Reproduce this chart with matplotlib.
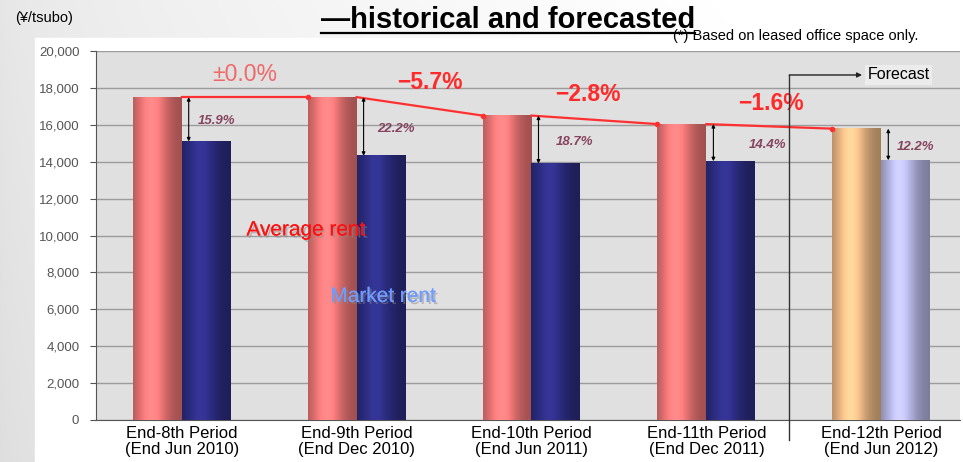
import numpy as np
import matplotlib
matplotlib.use("Agg")
import matplotlib.pyplot as plt
from matplotlib.lines import Line2D
import matplotlib.patheffects as pe

# ---------------- data ----------------
periods = ["End-8th Period\n(End Jun 2010)", "End-9th Period\n(End Dec 2010)",
           "End-10th Period\n(End Jun 2011)", "End-11th Period\n(End Dec 2011)",
           "End-12th Period\n(End Jun 2012)"]
average_rent = [17500, 17500, 16500, 16040, 15790]
market_rent = [15100, 14320, 13900, 14030, 14080]
change_labels = ["±0.0%", "−5.7%", "−2.8%", "−1.6%"]
gap_labels = ["15.9%", "22.2%", "18.7%", "14.4%", "12.2%"]
yticks = [0, 2000, 4000, 6000, 8000, 10000, 12000, 14000, 16000, 18000, 20000]

# ---------------- style / layout ----------------
W, H = 963, 462
fig = plt.figure(figsize=(W / 100, H / 100), dpi=100)

# background gradient
bg = fig.add_axes([0, 0, 1, 1], zorder=-10)
xx = np.linspace(0, 1, W)[None, :]
yy = np.linspace(0, 1, H)[:, None]
v = 0.87 + 0.12 * xx ** 0.6 + 0.03 * (1 - yy)
v = np.clip(v, 0, 1)
img = np.dstack([v * np.ones((H, W))] * 3)
bg.imshow(img, extent=[0, W, H, 0], aspect="auto")
bg.add_patch(plt.Rectangle((35, 38), W - 35, H - 38, color="white"))
bg.set_xlim(0, W)
bg.set_ylim(H, 0)
bg.axis("off")

ax = fig.add_axes([96 / W, (H - 420) / H, (960 - 96) / W, (420 - 51) / H])
ax.set_facecolor("#e0e0e0")
ax.set_axisbelow(True)

x = np.arange(len(periods))
w = 0.28
avg_base = ["#ff7f7f"] * 4 + ["#ffc890"]
mkt_base = ["#30308c"] * 4 + ["#c4c4f6"]

bars_avg = ax.bar(x - w / 2, average_rent, width=w, color=avg_base, zorder=3)
bars_mkt = ax.bar(x + w / 2, market_rent, width=w, color=mkt_base, zorder=3)


def shade_profile(n=64):
    t = np.linspace(0, 1, n)
    return 0.62 + 0.45 * np.exp(-((t - 0.38) / 0.33) ** 2)


prof = shade_profile()
for bars, bases in ((bars_avg, avg_base), (bars_mkt, mkt_base)):
    for b, c in zip(bars, bases):
        rgb = np.array(matplotlib.colors.to_rgb(c))
        g = np.clip(rgb[None, :] * prof[:, None] + 0.08 * np.clip(prof[:, None] - 0.95, 0, 1), 0, 1)
        g = g[None, :, :]
        ax.imshow(g, extent=[b.get_x(), b.get_x() + b.get_width(), 0, b.get_height()],
                  aspect="auto", zorder=4, interpolation="bicubic")

# trend line between average rent bars
for i in range(len(x) - 1):
    x0 = x[i]
    x1 = x[i + 1] - w
    ax.plot([x0, x1], [average_rent[i], average_rent[i + 1]], color="#ff3030", lw=1.6, zorder=5)
    ax.plot([x1], [average_rent[i + 1]], "o", color="#ff3030", ms=3, zorder=5)

# change labels
chg_pos = [(0.36, 18700), (1.42, 18270), (2.32, 17620), (3.37, 17180)]
for lab, (px, py) in zip(change_labels, chg_pos):
    light = lab.startswith("±")
    ax.text(px, py, lab, ha="center", va="center", fontsize=16.5,
            fontweight="normal" if light else "bold",
            color="#f06868" if light else "#ff2a2a",
            family=["Liberation Sans", "DejaVu Sans"], zorder=6)

# gap arrows and labels
gap_dx = [0.09, 0.12, 0.14, 0.24, 0.09]
for i in range(len(x)):
    xa = x[i] + 0.04
    ax.annotate("", xy=(xa, market_rent[i]), xytext=(xa, average_rent[i]),
                arrowprops=dict(arrowstyle="<|-|>", color="black", lw=0.8,
                                mutation_scale=5, shrinkA=0, shrinkB=0), zorder=6)
    ym = (average_rent[i] + market_rent[i]) / 2 - 120
    ax.text(x[i] + gap_dx[i], ym, gap_labels[i], ha="left", va="center", fontsize=9.5,
            style="italic", fontweight="bold", color="#86445e",
            family=["Liberation Sans", "DejaVu Sans"], zorder=6)

# series name labels
shadow = [pe.withSimplePatchShadow(offset=(1.5, -1.5), shadow_rgbFace="#888888", alpha=0.5), pe.Normal()]
ax.text(0.37, 10300, "Average rent", ha="left", va="center", fontsize=15, color="#ff1010",
        family=["Liberation Sans", "DejaVu Sans"], zorder=7, path_effects=shadow)
ax.text(0.85, 6700, "Market rent", ha="left", va="center", fontsize=15, color="#6f9cff",
        family=["Liberation Sans", "DejaVu Sans"], zorder=7, path_effects=shadow)

# forecast marker
fx = 3.474
ax.plot([fx, fx], [-1100, 18700], color="#333333", lw=1.0, zorder=8, clip_on=False)
ax.annotate("", xy=(3.89, 18700), xytext=(fx, 18700),
            arrowprops=dict(arrowstyle="-|>", color="#222222", lw=1.0, mutation_scale=7,
                            shrinkA=0, shrinkB=0), zorder=8)
ax.text(3.92, 18700, "Forecast", ha="left", va="center", fontsize=11.5, color="black",
        family=["Liberation Sans", "DejaVu Sans"], zorder=8,
        bbox=dict(boxstyle="square,pad=0.15", fc="#ececec", ec="none"))

# axes formatting
ax.set_xlim(-0.49, 4.45)
ax.set_ylim(0, 20000)
ax.set_yticks(yticks)
ax.set_yticklabels([f"{t:,}" for t in yticks], fontsize=9.5, color="#555555",
                   family=["Liberation Sans", "DejaVu Sans"])
ax.set_xticks(x)
ax.set_xticklabels(periods, fontsize=12, color="black", linespacing=1.1,
                   family=["Liberation Sans", "DejaVu Sans"])
ax.tick_params(axis="x", length=0, pad=4)
ax.tick_params(axis="y", length=4, color="#555555", pad=8)
ax.yaxis.grid(True, color="#9c9c9c", lw=1.0)
for s in ("top", "right"):
    ax.spines[s].set_visible(False)
ax.spines["left"].set_color("#555555")
ax.spines["bottom"].set_color("#555555")

# titles / notes
fig.text(15 / W, 1 - 18 / H, "(¥/tsubo)", ha="left", va="center", fontsize=10.5,
         family=["Liberation Sans", "DejaVu Sans"])
title = fig.text(508 / W, 1 - 28 / H, "—historical and forecasted", ha="center", va="baseline",
                 fontsize=21, fontweight="bold", family=["Liberation Sans", "DejaVu Sans"])
fig.text(918 / W, 1 - 36 / H, "(*) Based on leased office space only.", ha="right", va="center",
         fontsize=10.5, family=["Liberation Sans", "DejaVu Sans"], zorder=5)

fig.canvas.draw()
bb = title.get_window_extent()
uy = (H - 33) / H
fig.add_artist(Line2D([bb.x0 / W, bb.x1 / W], [uy, uy], color="black", lw=1.6,
                      transform=fig.transFigure))

fig.savefig("out.png", dpi=100)
